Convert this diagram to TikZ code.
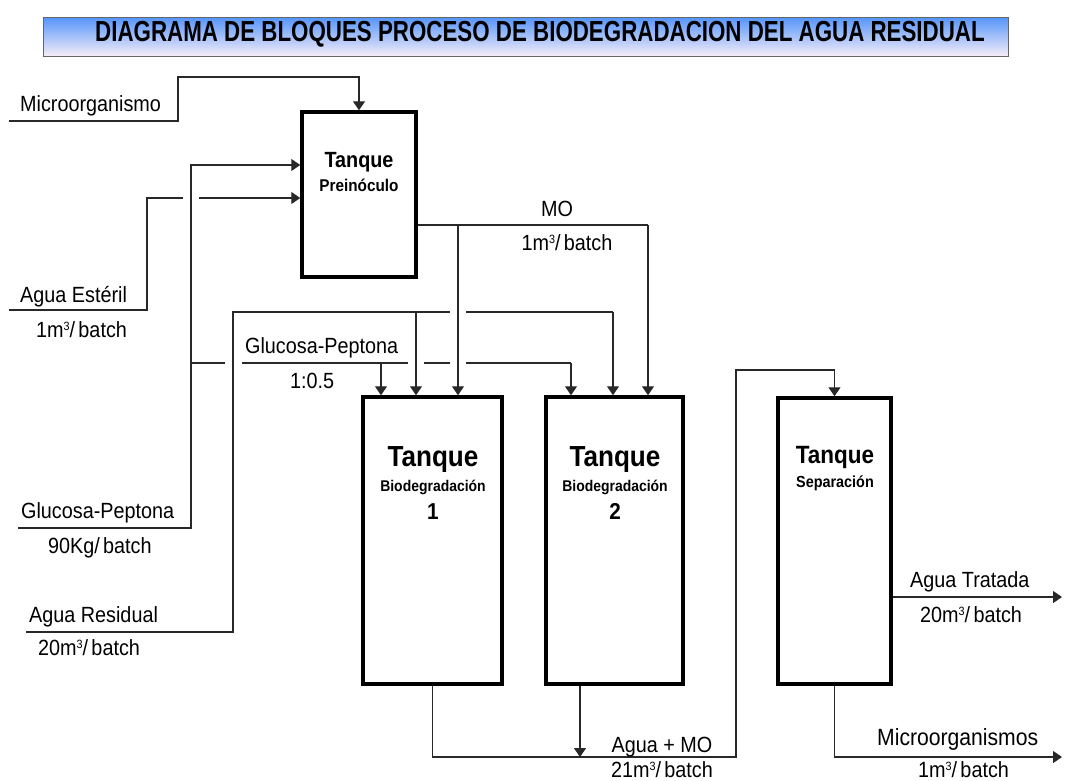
\documentclass[tikz,border=0pt]{standalone}
\usepackage{fontspec}
\setmainfont{Liberation Sans}
\usetikzlibrary{arrows.meta}

\definecolor{bandtop}{RGB}{85,148,250}
\definecolor{bandmid}{RGB}{150,190,248}
\definecolor{bandbot}{RGB}{245,237,248}
\definecolor{ln}{RGB}{40,40,40}

\newcommand{\mcub}{m\raisebox{6.5pt}{\fontsize{12}{12}\selectfont 3}}

\tikzset{
  tank/.style={draw, line width=3.5pt, rectangle, inner sep=0pt},
  flow/.style={draw=ln, line width=1.1pt},
  arr/.style={flow, -{Triangle[length=9pt,width=12pt]}},
  jumpgap/.style={draw=white, line width=5pt},
  lbl/.style={inner sep=0pt, xscale=0.9, font=\fontsize{22}{24}\selectfont},
  big/.style={inner sep=0pt, xscale=0.9, font=\fontsize{29}{31}\selectfont\bfseries},
  sub/.style={inner sep=0pt, xscale=0.9, font=\fontsize{15.5}{17}\selectfont\bfseries},
}

\begin{document}
\begin{tikzpicture}[x=1pt,y=-1pt]
    \useasboundingbox (0,0) rectangle (1065,780);

    % titulo
    \shade[top color=bandtop, middle color=bandmid, bottom color=bandbot] (43,17) rectangle (1008,56);
    \draw[black!60, line width=0.8pt] (43,17) rectangle (1008,56);
    \node[inner sep=0pt, xscale=0.77, font=\fontsize{29}{29}\selectfont\bfseries] (ttl) at (540,34)
          {DIAGRAMA DE BLOQUES PROCESO DE BIODEGRADACION DEL AGUA RESIDUAL};

    % tanques
    \node[tank, minimum width=114pt, minimum height=165pt] (pre) at (359,194.5) {};
    \node[tank, minimum width=139pt, minimum height=287pt] (bio1) at (432.5,540.5) {};
    \node[tank, minimum width=137pt, minimum height=287pt] (bio2) at (614.5,540.5) {};
    \node[tank, minimum width=113pt, minimum height=286pt] (sep) at (834.5,541) {};

    \node[big, font=\fontsize{22}{24}\selectfont\bfseries, anchor=base] (preT) at (359,167) {Tanque};
    \node[sub, font=\fontsize{17}{19}\selectfont\bfseries, anchor=base] (preS) at (359,191) {Preinóculo};
    \node[big, anchor=base] (bio1T) at (433,466) {Tanque};
    \node[sub, anchor=base] (bio1S) at (433,491) {Biodegradación};
    \node[big, font=\fontsize{23}{25}\selectfont\bfseries, anchor=base] (bio1N) at (433,519) {1};
    \node[big, anchor=base] (bio2T) at (615,466) {Tanque};
    \node[sub, anchor=base] (bio2S) at (615,491) {Biodegradación};
    \node[big, font=\fontsize{23}{25}\selectfont\bfseries, anchor=base] (bio2N) at (615,519) {2};
    \node[big, font=\fontsize{25}{27}\selectfont\bfseries, anchor=base] (sepT) at (835,463) {Tanque};
    \node[sub, font=\fontsize{16}{18}\selectfont\bfseries, anchor=base] (sepS) at (835,487) {Separación};

    % puntos de las lineas
    \coordinate (micA) at (9,121);
    \coordinate (micB) at (178,77);
    \coordinate (estA) at (9,310);
    \coordinate (estB) at (147,198);
    \coordinate (gluA) at (18,528);
    \coordinate (gluB) at (191,165);
    \coordinate (gluC) at (191,363);
    \coordinate (gluD) at (381,363);
    \coordinate (gluE) at (571,363);
    \coordinate (resA) at (26,632);
    \coordinate (resB) at (233,312);
    \coordinate (resC) at (416,312);
    \coordinate (resD) at (613,312);
    \coordinate (moA) at (458,225);
    \coordinate (moB) at (648,225);
    \coordinate (amoA) at (736,757);
    \coordinate (amoB) at (736,370);
    \coordinate (b2out) at (580,757);
    \coordinate (trat) at (1062,597);
    \coordinate (micout) at (1062,757);

    % entradas
    \draw[arr] (micA) -| (micB) -| (pre.north);
    \draw[arr] (estA) -| (estB) -- (estB -| pre.west);
    \draw[jumpgap] (183,198) -- (199,198);
    \draw[arr] (gluA) -| (gluB) -- (gluB -| pre.west);
    \draw[flow] (gluC) -- (gluE);
    \draw[arr] (gluD) -- (gluD |- bio1.north);
    \draw[arr] (gluE) -- (gluE |- bio2.north);
    \draw[jumpgap] (225,363) -- (242,363);
    \draw[jumpgap] (408,363) -- (424,363);
    \draw[jumpgap] (450,363) -- (466,363);
    \draw[flow] (resA) -| (resB) -- (resD);
    \draw[arr] (resC) -- (resC |- bio1.north);
    \draw[arr] (resD) -- (resD |- bio2.north);
    \draw[jumpgap] (450,312) -- (466,312);
    \draw[flow] (pre.east |- moB) -- (moB);
    \draw[arr] (moA) -- (moA |- bio1.north);
    \draw[arr] (moB) -- (moB |- bio2.north);

    % salidas
    \draw[arr] (bio1.south) |- (amoA) -- (amoB) -| (sep.north);
    \draw[arr] (b2out |- bio2.south) -- (b2out);
    \draw[arr] (sep.east |- trat) -- (trat);
    \draw[arr] (sep.south) |- (micout);

    % etiquetas
    \node[lbl, anchor=base west] (lMic) at (20,111) {Microorganismo};
    \node[lbl, anchor=base west] (lEst) at (20,302) {Agua Estéril};
    \node[lbl, anchor=base west] (qEst) at (36,337) {1\mcub/\,batch};
    \node[lbl, anchor=base west] (lGlu) at (21,518) {Glucosa-Peptona};
    \node[lbl, anchor=base west] (qGlu) at (48,553) {90Kg/\,batch};
    \node[lbl, anchor=base west] (lRes) at (29,622) {Agua Residual};
    \node[lbl, anchor=base west] (qRes) at (38,655) {20\mcub/\,batch};
    \node[lbl, anchor=base west] (lGlu2) at (245,353) {Glucosa-Peptona};
    \node[lbl, anchor=base west] (qGlu2) at (290,388) {1:0.5};
    \node[lbl, anchor=base] (lMO) at (557,216) {MO};
    \node[lbl, anchor=base] (qMO) at (567,250) {1\mcub/\,batch};
    \node[lbl, anchor=base west] (lTrat) at (910,587) {Agua Tratada};
    \node[lbl, anchor=base west] (qTrat) at (920,622) {20\mcub/\,batch};
    \node[lbl, anchor=base] (lAmo) at (662,752) {Agua + MO};
    \node[lbl, anchor=base] (qAmo) at (662,777) {21\mcub/\,batch};
    \node[lbl, font=\fontsize{23.5}{25}\selectfont, anchor=base west] (lMicS) at (877,745) {Microorganismos};
    \node[lbl, anchor=base west] (qMicS) at (918,777) {1\mcub/\,batch};
\end{tikzpicture}
\end{document}
